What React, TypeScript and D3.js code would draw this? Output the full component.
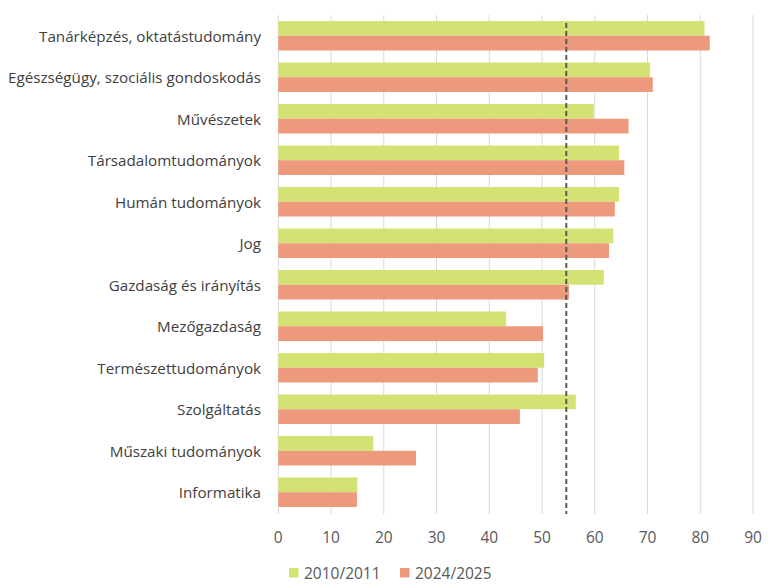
import React from 'react';
import * as d3 from 'd3';

const categories = [
  'Tanárképzés, oktatástudomány',
  'Egészségügy, szociális gondoskodás',
  'Művészetek',
  'Társadalomtudományok',
  'Humán tudományok',
  'Jog',
  'Gazdaság és irányítás',
  'Mezőgazdaság',
  'Természettudományok',
  'Szolgáltatás',
  'Műszaki tudományok',
  'Informatika',
];

const seriesNames = ['2010/2011', '2024/2025'];
const values2010 = [80.8, 70.5, 59.8, 64.6, 64.6, 63.5, 61.7, 43.2, 50.4, 56.4, 18.0, 15.0];
const values2024 = [81.8, 71.0, 66.4, 65.6, 63.8, 62.7, 55.1, 50.2, 49.2, 45.8, 26.1, 14.9];
const average = 54.6;
const xTicks = [0, 10, 20, 30, 40, 50, 60, 70, 80, 90];

const colors = ['#D4E274', '#EC997C'];
const FONT = "'Open Sans', 'Noto Sans', sans-serif";

const App: React.FC = () => {
  const width = 772;
  const height = 585;
  const x = d3.scaleLinear().domain([0, 90]).range([278.3, 753]);
  const y = d3
    .scaleBand<string>()
    .domain(categories)
    .range([15, 513])
    .paddingInner(0.29)
    .paddingOuter(0.145);
  const inner = d3.scaleBand<string>().domain(seriesNames).range([0, y.bandwidth()]);
  const series = [values2010, values2024];

  return (
    <svg
      width={width}
      height={height}
      style={{ position: 'absolute', left: 0, top: 0, background: '#fff' }}
      fontFamily={FONT}
    >
      {/* gridlines */}
      {xTicks.map((t) => (
        <line
          key={t}
          x1={x(t)}
          x2={x(t)}
          y1={15}
          y2={514}
          stroke="#d9d9d9"
          strokeWidth={1}
        />
      ))}

      {/* bars */}
      {categories.map((c, i) => (
        <g key={c} transform={`translate(0,${y(c)})`}>
          {series.map((vals, s) => (
            <rect
              key={s}
              x={x(0)}
              y={inner(seriesNames[s])}
              width={x(vals[i]) - x(0)}
              height={inner.bandwidth()}
              fill={colors[s]}
            />
          ))}
        </g>
      ))}

      {/* average line */}
      <line
        x1={x(average)}
        x2={x(average)}
        y1={23}
        y2={514}
        stroke="#595959"
        strokeWidth={2}
        strokeDasharray="5,3"
      />

      {/* category labels */}
      {categories.map((c) => (
        <text
          key={c}
          x={261}
          y={(y(c) as number) + y.bandwidth() / 2}
          textAnchor="end"
          dominantBaseline="central"
          fontSize={15.2}
          fill="#404040"
        >
          {c}
        </text>
      ))}

      {/* x tick labels */}
      {xTicks.map((t) => (
        <text
          key={t}
          x={x(t)}
          y={537}
          textAnchor="middle"
          dominantBaseline="central"
          fontSize={15.5}
          fill="#595959"
        >
          {t}
        </text>
      ))}

      {/* legend */}
      {seriesNames.map((n, s) => (
        <g key={n} transform={`translate(${289 + s * 111},568)`}>
          <rect width={9.5} height={9.5} fill={colors[s]} />
          <text x={15} y={5} dominantBaseline="central" fontSize={15.5} fill="#595959">
            {n}
          </text>
        </g>
      ))}
    </svg>
  );
};

export default App;
